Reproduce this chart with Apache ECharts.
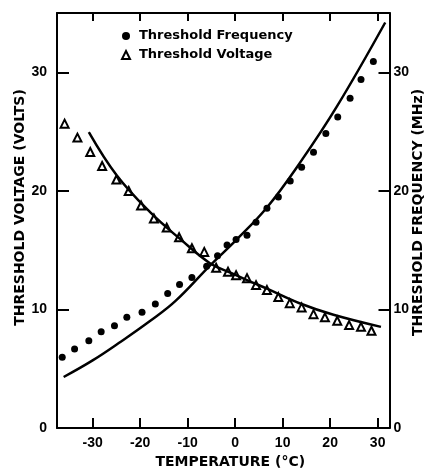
<!doctype html>
<html>
<head>
    <meta charset="utf-8">
    <title>threshold</title>
    <script src="https://cdn.jsdelivr.net/npm/echarts@6/dist/echarts.min.js"></script>
    <style>
        html, body {margin: 0; padding: 0; background: #fff;}
        #main {width: 431px; height: 472px;}
    </style>
</head>
<body>
<div id="main"></div>
<script>
    // 读图得到的数据
    const xTicks = [-30, -20, -10, 0, 10, 20, 30];
    const yTicks = [0, 10, 20, 30];

    // 频率 (圆点, MHz, 右轴)
    const freqTemp = [-36.4, -33.8, -30.8, -28.2, -25.4, -22.8, -19.6, -16.8, -14.2, -11.7,
        -9.1, -6.0, -3.7, -1.7, 0.2, 2.5, 4.4, 6.7, 9.1, 11.6,
        14.0, 16.5, 19.1, 21.6, 24.2, 26.5, 29.1];
    const freqMHz = [5.96, 6.66, 7.36, 8.12, 8.62, 9.33, 9.77, 10.45, 11.35, 12.11,
        12.69, 13.65, 14.53, 15.44, 15.89, 16.26, 17.35, 18.53, 19.48, 20.83,
        22.0, 23.25, 24.83, 26.22, 27.8, 29.4, 30.9];

    // 电压 (三角, VOLTS, 左轴)
    const voltTemp = [-35.9, -33.2, -30.5, -28.0, -25.0, -22.4, -19.8, -17.1, -14.4, -11.8,
        -9.1, -6.5, -4.0, -1.5, 0.2, 2.5, 4.4, 6.7, 9.1, 11.5,
        14.0, 16.5, 18.9, 21.5, 24.0, 26.5, 28.7];
    const voltVolts = [25.67, 24.49, 23.28, 22.1, 20.95, 19.99, 18.76, 17.67, 16.9, 16.09,
        15.16, 14.85, 13.52, 13.18, 12.89, 12.64, 12.05, 11.63, 11.04, 10.53,
        10.17, 9.6, 9.33, 9.04, 8.68, 8.53, 8.2];

    // 两条曲线
    const voltCurveT = [-30.8, -24.9, -17.9, -11.6, -5.3, -1.0, 3.2, 6.7, 13.7, 20.7, 30.7];
    const voltCurveV = [24.96, 21.3, 18.2, 15.95, 13.9, 13.1, 12.35, 11.75, 10.5, 9.55, 8.53];
    const freqCurveT = [-36.1, -30.0, -24.0, -18.0, -12.6, -5.3, 0.2, 6.7, 13.7, 21.4, 31.6];
    const freqCurveF = [4.3, 5.7, 7.3, 9.0, 10.7, 13.7, 15.85, 18.6, 22.4, 27.1, 34.2];

    const pairs = (xs, ys) => xs.map((x, i) => [x, ys[i]]);

    const labelFont = {color: '#000', fontFamily: 'Liberation Sans', fontWeight: 'bold', fontSize: 14};
    const nameFont = {color: '#000', fontFamily: 'DejaVu Sans', fontWeight: 'bold', fontSize: 14};
    const axisLine = {show: true, onZero: false, lineStyle: {color: '#000', width: 2}};

    const option = {
        animation: false,
        backgroundColor: '#fff',
        grid: {left: 57, right: 41.5, top: 13, bottom: 44, containLabel: false, outerBoundsMode: 'none'},
        legend: {
            data: ['Threshold Frequency', 'Threshold Voltage'],
            orient: 'vertical',
            left: 121,
            top: 29,
            padding: 0,
            itemWidth: 8,
            itemHeight: 8,
            itemGap: 5,
            textStyle: {color: '#000', fontFamily: 'DejaVu Sans', fontWeight: 'bold', fontSize: 13, lineHeight: 14, padding: [0, 0, 0, 4]}
        },
        xAxis: [
            {
                type: 'value', position: 'bottom', min: -37.5, max: 32.5,
                axisLine: axisLine,
                axisTick: {inside: true, length: 10, customValues: xTicks, lineStyle: {color: '#000', width: 2}},
                axisLabel: Object.assign({customValues: xTicks, margin: 8}, labelFont),
                splitLine: {show: false},
                name: 'TEMPERATURE (°C)', nameLocation: 'middle', nameGap: 27, nameMoveOverlap: false,
                nameTextStyle: Object.assign({padding: [0, 0, 0, 14]}, nameFont)
            },
            {
                type: 'value', position: 'top', min: -37.5, max: 32.5,
                axisLine: axisLine,
                axisTick: {inside: true, length: 8, customValues: xTicks, lineStyle: {color: '#000', width: 2}},
                axisLabel: {show: false},
                splitLine: {show: false}
            }
        ],
        yAxis: [
            {
                type: 'value', position: 'left', min: 0, max: 35,
                axisLine: axisLine,
                axisTick: {inside: true, length: 12, customValues: yTicks, lineStyle: {color: '#000', width: 2}},
                axisLabel: Object.assign({customValues: yTicks, margin: 10}, labelFont),
                splitLine: {show: false},
                name: 'THRESHOLD VOLTAGE (VOLTS)', nameLocation: 'middle', nameRotate: 90, nameGap: 30,
                nameMoveOverlap: false,
                nameTextStyle: Object.assign({padding: [0, 0, 0, 26]}, nameFont)
            },
            {
                type: 'value', position: 'right', min: 0, max: 35,
                axisLine: axisLine,
                axisTick: {inside: true, length: 11, customValues: yTicks, lineStyle: {color: '#000', width: 2}},
                axisLabel: Object.assign({customValues: yTicks, margin: 4}, labelFont),
                splitLine: {show: false},
                name: 'THRESHOLD FREQUENCY (MHz)', nameLocation: 'middle', nameRotate: 90, nameGap: 22,
                nameMoveOverlap: false,
                nameTextStyle: Object.assign({padding: [0, 0, 0, 16]}, nameFont)
            }
        ],
        series: [
            {
                name: 'Threshold Frequency', type: 'scatter', yAxisIndex: 1,
                symbol: 'circle', symbolSize: 7,
                itemStyle: {color: '#000', opacity: 1},
                data: pairs(freqTemp, freqMHz)
            },
            {
                name: 'Threshold Voltage', type: 'scatter', yAxisIndex: 0,
                symbol: 'triangle', symbolSize: 8,
                itemStyle: {color: '#fff', borderColor: '#000', borderWidth: 2, opacity: 1},
                data: pairs(voltTemp, voltVolts)
            },
            {
                name: 'voltage fit', type: 'line', yAxisIndex: 0,
                showSymbol: false, smooth: 0.4,
                lineStyle: {color: '#000', width: 2.5},
                data: pairs(voltCurveT, voltCurveV)
            },
            {
                name: 'frequency fit', type: 'line', yAxisIndex: 1,
                showSymbol: false, smooth: 0.4,
                lineStyle: {color: '#000', width: 2.5},
                data: pairs(freqCurveT, freqCurveF)
            }
        ]
    };

    const myChart = echarts.init(document.getElementById('main'));
    myChart.setOption(option);
</script>
</body>
</html>
